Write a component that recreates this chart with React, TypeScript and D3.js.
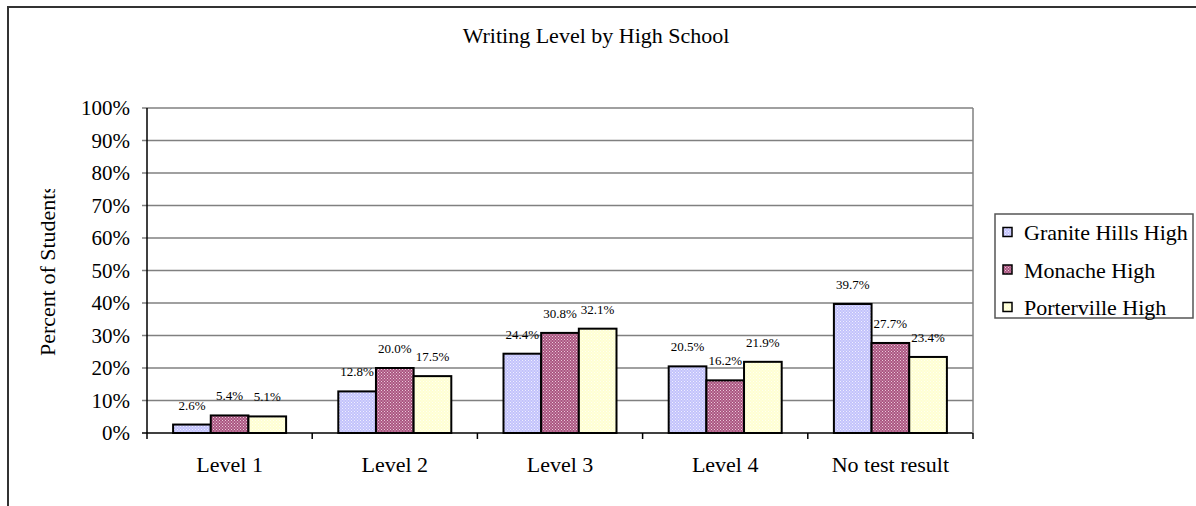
import { scaleBand, scaleLinear } from 'd3'

const categories = ['Level 1', 'Level 2', 'Level 3', 'Level 4', 'No test result']
const schools = ['Granite Hills High', 'Monache High', 'Porterville High']
const graniteHills = [2.6, 12.8, 24.4, 20.5, 39.7]
const monache = [5.4, 20.0, 30.8, 16.2, 27.7]
const porterville = [5.1, 17.5, 32.1, 21.9, 23.4]
const yTicks = [0, 10, 20, 30, 40, 50, 60, 70, 80, 90, 100]

const seriesValues = [graniteHills, monache, porterville]

// dotted fills, like the old spreadsheet patterns
const patterns = [
  { id: 'pat-granite', a: '#c2c2fb', b: '#efefff' },
  { id: 'pat-monache', a: '#aa5580', b: '#ebcadb' },
  { id: 'pat-porter', a: '#ffffd2', b: '#fffff4' },
]

const font = 'Liberation Serif'

export default function App() {
  const width = 1196
  const height = 506
  const left = 147
  const right = 973
  const top = 108
  const bottom = 433

  const x0 = scaleBand<string>().domain(categories).range([left, right])
  const gap = x0.bandwidth() * 0.158
  const x1 = scaleBand<string>().domain(schools).range([gap, x0.bandwidth() - gap])
  const y = scaleLinear().domain([0, 100]).range([bottom, top])

  const fmt = (v: number) => `${v.toFixed(1)}%`

  return (
    <>
      <style>{'body{margin:0}'}</style>
      <svg width={width} height={height} viewBox={`0 0 ${width} ${height}`} style={{ display: 'block' }} fontFamily={font}>
        <defs>
          {patterns.map((p) => (
            <pattern key={p.id} id={p.id} width="3" height="3" patternUnits="userSpaceOnUse">
              <rect width="3" height="3" fill={p.a} />
              <rect width="1" height="1" fill={p.b} />
              <rect x="1.5" y="1.5" width="1" height="1" fill={p.b} />
            </pattern>
          ))}
          <clipPath id="ytitle-clip">
            <rect x="0" y="189" width="120" height="300" />
          </clipPath>
        </defs>

        <rect width={width} height={height} fill="#ffffff" />
        <rect x="8" y="7" width={width + 20} height={height + 20} fill="none" stroke="#333" strokeWidth="2" />

        <text x="596" y="43" textAnchor="middle" fontSize="22" fontFamily={font} fill="#000">Writing Level by High School</text>

        {/* gridlines */}
        {yTicks.map((t) => (
          <line key={t} x1={left - 5} x2={right} y1={y(t)} y2={y(t)} stroke={t === 0 ? '#000' : '#808080'} strokeWidth="1.5" />
        ))}
        <line x1={right} x2={right} y1={top} y2={bottom} stroke="#808080" strokeWidth="1.5" />
        <line x1={left} x2={left} y1={top} y2={bottom} stroke="#000" strokeWidth="1.5" />

        {yTicks.map((t) => (
          <text key={t} x="130" y={y(t) + 7} textAnchor="end" fontSize="21" fontFamily={font} fill="#000">{t}%</text>
        ))}

        {[...categories.map((c) => x0(c) ?? 0), right].map((tx, i) => (
          <line key={i} x1={tx} x2={tx} y1={bottom} y2={bottom + 6} stroke="#000" strokeWidth="1.5" />
        ))}

        {categories.map((c, ci) => (
          <g key={c}>
            {schools.map((s, si) => {
              const v = seriesValues[si][ci]
              const bx = (x0(c) ?? 0) + (x1(s) ?? 0)
              const bw = x1.bandwidth()
              return (
                <g key={s}>
                  <rect x={bx} y={y(v)} width={bw} height={bottom - y(v)} fill={`url(#${patterns[si].id})`} stroke="#000" strokeWidth="2" />
                  <text x={bx + bw / 2} y={y(v) - 15} textAnchor="middle" fontSize="13" fontFamily={font} fill="#000">{fmt(v)}</text>
                </g>
              )
            })}
            <text x={(x0(c) ?? 0) + x0.bandwidth() / 2} y="472" textAnchor="middle" fontSize="22" fontFamily={font} fill="#000">{c}</text>
          </g>
        ))}

        <g clipPath="url(#ytitle-clip)">
          <text transform={`translate(55, ${(top + bottom) / 2}) rotate(-90)`} textAnchor="middle" fontSize="22" fontFamily={font} fill="#000">Percent of Students</text>
        </g>

        {/* legend */}
        <rect x="995" y="214" width="198" height="104" fill="#fff" stroke="#555" strokeWidth="1.5" />
        {schools.map((s, i) => {
          const cy = 232 + i * 37.5
          return (
            <g key={s}>
              <rect x="1003" y={cy - 4.5} width="9" height="9" fill={`url(#${patterns[i].id})`} stroke="#000" strokeWidth="1.5" />
              <text x="1024" y={cy + 8} fontSize="22" fontFamily={font} fill="#000">{s}</text>
            </g>
          )
        })}
      </svg>
    </>
  )
}
